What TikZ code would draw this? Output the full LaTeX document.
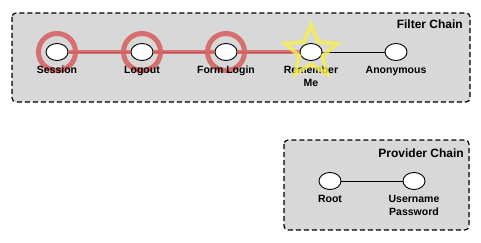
\documentclass[tikz,border=0pt]{standalone}
\usepackage{fontspec}
\setmainfont{Liberation Sans}
\usetikzlibrary{positioning,shapes.geometric}
\definecolor{chainfill}{RGB}{216,216,216}
\definecolor{hlred}{RGB}{214,100,100}
\definecolor{hlyellow}{RGB}{246,238,80}

\tikzset{
  chainbox/.style={draw,line width=1.2pt,dash pattern=on 5pt off 3pt,fill=chainfill,rounded corners=4pt},
  filt/.style={draw,fill=white,ellipse,minimum width=22pt,minimum height=17pt,inner sep=0pt,line width=0.9pt},
  lbl/.style={font=\bfseries\fontsize{10.5}{13}\selectfont,align=center,inner sep=0pt},
  ttl/.style={font=\bfseries\fontsize{12}{14}\selectfont,inner sep=0pt},
  ring/.style={draw=hlred,circle,minimum size=37pt,line width=5pt,opacity=.9},
}

\begin{document}
\begin{tikzpicture}[x=1pt,y=-1pt]
\useasboundingbox (0,0) rectangle (481,243);
% chain boxes
\draw[chainbox] (12,13) rectangle (470,102);
\draw[chainbox] (284,140) rectangle (469,230);
\node[ttl,anchor=base east] (ftitle) at (463,28.5) {Filter Chain};
\node[ttl,anchor=base east] (ptitle) at (464,157.5) {Provider Chain};

% filter chain
\foreach \i/\x in {1/57,2/142,3/226,4/311,5/396}
  \node[filt] (f\i) at (\x,52) {};
\foreach \i/\j in {1/2,2/3,3/4,4/5}
  \draw[line width=0.9pt] (f\i) -- (f\j);

% provider chain
\node[filt] (p1) at (330,181) {};
\node[filt] (p2) at (414,181) {};
\node[lbl,below=5pt of p1] (pl1) {Root};
\node[lbl,below=5pt of p2] (pl2) {Username\\Password};
\draw[line width=0.9pt] (p1) -- (p2);

% highlight
\foreach \i/\j in {1/2,2/3,3/4}
  \draw[hlred,line width=4.5pt,opacity=.85] (f\i) -- (f\j);
\foreach \i in {1,2,3}
  \node[ring] (r\i) at (f\i) {};
\foreach \i/\t in {1/Session,2/Logout,3/Form Login,4/{Remember\\Me},5/Anonymous}
  \node[lbl,below=5pt of f\i] (fl\i) {\t};
\node[star,star points=5,star point ratio=2.2,minimum size=54pt,draw=hlyellow,line width=4pt,opacity=.8] (rmstar) at (f4) {};
\end{tikzpicture}
\end{document}
